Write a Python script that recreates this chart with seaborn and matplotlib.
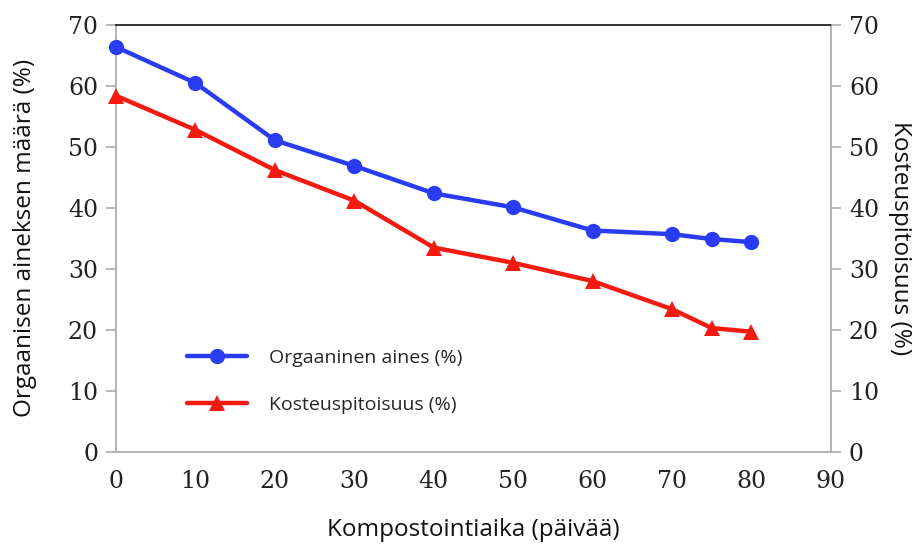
import matplotlib
matplotlib.use('Agg')
import matplotlib.pyplot as plt
import seaborn as sns
import pandas as pd

# values
days = [0, 10, 20, 30, 40, 50, 60, 70, 75, 80]
organic = [66.4, 60.5, 51.1, 46.9, 42.4, 40.1, 36.3, 35.7, 34.9, 34.4]
moisture = [58.4, 52.8, 46.2, 41.2, 33.5, 31.0, 28.0, 23.4, 20.3, 19.7]
x_ticks = [0, 10, 20, 30, 40, 50, 60, 70, 80, 90]
y_ticks = [0, 10, 20, 30, 40, 50, 60, 70]

df = pd.DataFrame({'day': days, 'organic': organic, 'moisture': moisture})

sns.set_style('white')
plt.rcParams['font.family'] = ['Open Sans', 'DejaVu Sans']

fig = plt.figure(figsize=(9.14, 5.45), dpi=100)
ax = fig.add_axes([0.127, 0.171, 0.782, 0.783])

sns.lineplot(data=df, x='day', y='organic', ax=ax, color='#2a3cf2', marker='o',
             markersize=11, markeredgewidth=0, linewidth=3.2, label='Orgaaninen aines (%)',
             clip_on=False, zorder=3)
sns.lineplot(data=df, x='day', y='moisture', ax=ax, color='#f51a10', marker='^',
             markersize=11, markeredgewidth=0, linewidth=3.2, label='Kosteuspitoisuus (%)',
             clip_on=False, zorder=3)

ax.set_xlim(0, 90)
ax.set_ylim(0, 70)
ax.set_xticks(x_ticks)
ax.set_yticks(y_ticks)

grey = '#a9b0b3'
for side in ['left', 'right', 'bottom']:
    ax.spines[side].set_color(grey)
    ax.spines[side].set_linewidth(1.3)
ax.spines['top'].set_color('#222222')
ax.spines['top'].set_linewidth(1.3)

tick_font = {'family': 'DejaVu Serif', 'size': 17}
ax.tick_params(axis='both', direction='out', length=7, width=1.2, color=grey,
               labelcolor='#222222', pad=6)
ax.set_xticklabels(x_ticks, fontdict=tick_font)
ax.set_yticklabels(y_ticks, fontdict=tick_font)

ax.set_xlabel('Kompostointiaika (päivää)', fontsize=17.5, labelpad=18, color='#111111')
ax.set_ylabel('Orgaanisen aineksen määrä (%)', fontsize=17.5, labelpad=22, color='#111111')

ax2 = ax.twinx()
ax2.set_ylim(0, 70)
ax2.set_yticks(y_ticks)
ax2.set_yticklabels(y_ticks, fontdict=tick_font)
ax2.tick_params(axis='y', direction='out', length=7, width=1.2, color=grey,
                labelcolor='#222222', pad=6)
for s in ax2.spines.values():
    s.set_visible(False)
ax2.set_ylabel('Kosteuspitoisuus (%)', fontsize=17.5, rotation=-90, labelpad=24, color='#111111')

leg = ax.legend(loc='center left', bbox_to_anchor=(0.075, 0.165), frameon=False,
                fontsize=14, handlelength=3.1, labelspacing=1.5, handletextpad=1.1)

fig.savefig('out.png', dpi=100)
